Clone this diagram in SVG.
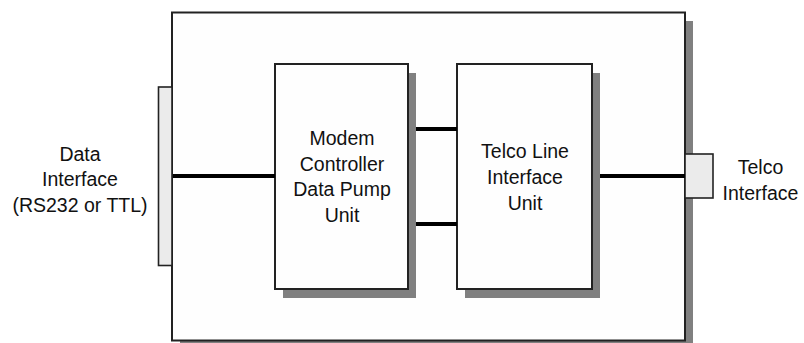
<svg xmlns="http://www.w3.org/2000/svg" width="804" height="343" viewBox="0 0 804 343">
<defs>
<style>
.shadow{fill:#808080;stroke:none}
.box{fill:#fefefe;stroke:#222;stroke-width:2}
.tab{fill:#ebebeb;stroke:#222;stroke-width:1.6}
.wire{stroke:#000;stroke-width:4;fill:none}
.lbl{font-family:"Liberation Sans",Arial,sans-serif;font-size:19.5px;fill:#111;text-anchor:middle}
</style>
</defs>
<rect width="804" height="343" fill="#ffffff"/>
<g id="chassis">
<rect class="shadow" x="180" y="21" width="513" height="328"/>
<rect class="box" x="172" y="12.5" width="513" height="328"/>
</g>
<g id="data-interface">
<rect class="tab" x="158.5" y="87" width="13.5" height="178.5"/>
<text class="lbl" x="80" y="160.5">Data</text>
<text class="lbl" x="80" y="186">Interface</text>
<text class="lbl" x="80" y="212">(RS232 or TTL)</text>
</g>
<g id="telco-interface">
<rect class="tab" x="685" y="154" width="28" height="44"/>
<text class="lbl" x="760.5" y="173.5">Telco</text>
<text class="lbl" x="760.5" y="200">Interface</text>
</g>
<g id="modem-controller">
<rect class="shadow" x="283" y="73" width="133" height="225"/>
<rect class="box" x="275" y="64" width="133" height="225"/>
<text class="lbl" x="342" y="145">Modem</text>
<text class="lbl" x="342" y="170.5">Controller</text>
<text class="lbl" x="342" y="196">Data Pump</text>
<text class="lbl" x="342" y="221.5">Unit</text>
</g>
<g id="telco-line-unit">
<rect class="shadow" x="465" y="73" width="135" height="225"/>
<rect class="box" x="457" y="64" width="135" height="225"/>
<text class="lbl" x="525" y="158">Telco Line</text>
<text class="lbl" x="525" y="184">Interface</text>
<text class="lbl" x="525" y="210">Unit</text>
</g>
<g id="connectors">
<line class="wire" x1="173" y1="176" x2="275" y2="176"/>
<line class="wire" x1="416" y1="129" x2="457" y2="129"/>
<line class="wire" x1="416" y1="224" x2="457" y2="224"/>
<line class="wire" x1="600" y1="176" x2="685" y2="176"/>
</g>
</svg>
